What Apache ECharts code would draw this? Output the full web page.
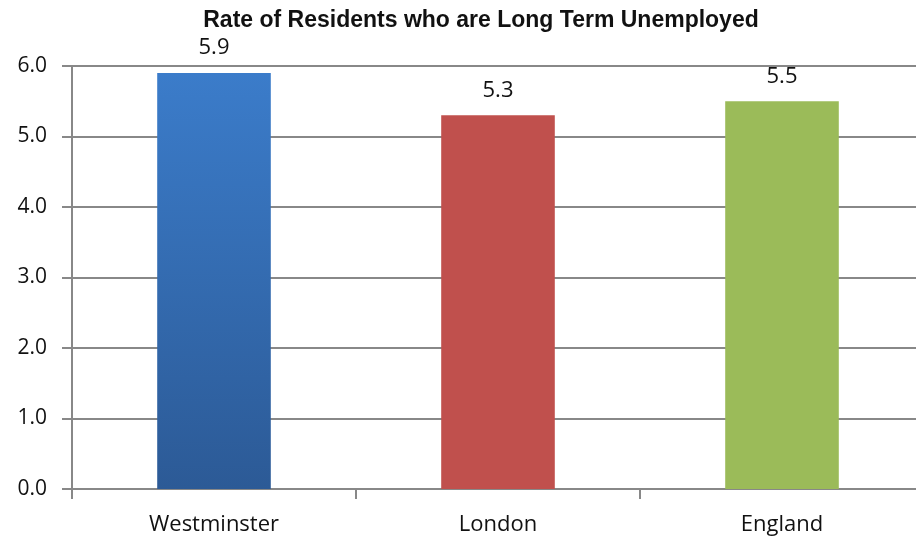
<!DOCTYPE html>
<html><head><meta charset="utf-8">
<script src="https://cdn.jsdelivr.net/npm/echarts@6/dist/echarts.min.js"></script>
<style>html,body{margin:0;padding:0;background:#fff}#c{width:916px;height:537px}</style>
</head><body><div id="c"></div>
<script>
const categories = ['Westminster', 'London', 'England'];
const values = [5.9, 5.3, 5.5];
const yTicks = [0, 1, 2, 3, 4, 5, 6];
const colors = [
  new echarts.graphic.LinearGradient(0, 0, 0, 1, [{offset: 0, color: '#3B7CCA'}, {offset: 1, color: '#2C5A96'}]),
  '#C0504D',
  '#9BBB59'
];
const chart = echarts.init(document.getElementById('c'), null, {renderer: 'canvas'});
chart.setOption({
  animation: false,
  title: {
    text: 'Rate of Residents who are Long Term Unemployed',
    left: 476, top: 4, textAlign: 'center',
    textStyle: {fontFamily: 'Liberation Sans', fontWeight: 'bold', fontSize: 23, color: '#111'}
  },
  grid: {left: 72, top: 66, bottom: 48, right: -8, containLabel: false, outerBoundsMode: 'none'},
  xAxis: {
    type: 'category', data: categories, boundaryGap: true,
    axisLine: {lineStyle: {color: '#888', width: 2}},
    axisTick: {show: true, length: 10, lineStyle: {color: '#888', width: 2}},
    axisLabel: {fontFamily: 'Open Sans', fontSize: 22, color: '#111', margin: 25}
  },
  yAxis: {
    type: 'value', min: yTicks[0], max: yTicks[yTicks.length - 1], interval: 1,
    axisLine: {show: true, lineStyle: {color: '#888', width: 2}},
    axisTick: {show: true, length: 10, lineStyle: {color: '#888', width: 2}},
    splitLine: {show: true, lineStyle: {color: '#888', width: 2}},
    axisLabel: {fontFamily: 'Open Sans', fontSize: 21, color: '#111', margin: 25,
      formatter: v => v.toFixed(1)}
  },
  series: [{
    type: 'bar', barWidth: '40%',
    data: values.map((v, i) => ({value: v, itemStyle: {color: colors[i]}})),
    label: {show: true, position: 'top', distance: 14, fontFamily: 'Open Sans', fontSize: 22, color: '#111',
      formatter: p => p.value.toFixed(1)}
  }]
});
</script></body></html>
